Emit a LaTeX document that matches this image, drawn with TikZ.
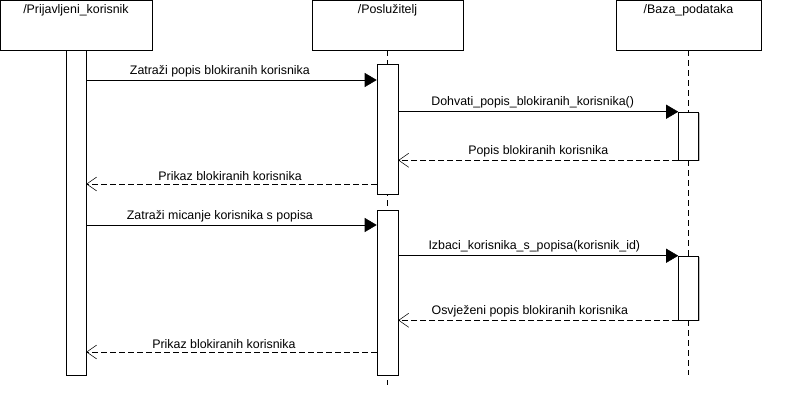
\documentclass[tikz,border=0pt]{standalone}
\usepackage{fontspec}
\setmainfont{Liberation Sans}
\usetikzlibrary{arrows.meta,shadows}

\tikzset{
  shade box/.style={drop shadow={shadow xshift=0.9pt,shadow yshift=-0.9pt,fill=black!25,opacity=1}},
  head/.style={draw,fill=white,shade box,minimum height=37.5pt,inner sep=0pt},
  title/.style={anchor=north,inner sep=0pt,font=\fontsize{9.3}{10}\selectfont},
  act/.style={draw,fill=white,shade box,minimum width=15pt,inner sep=0pt},
  life/.style={dash pattern=on 4.5pt off 3pt},
  call/.style={-{Triangle[length=9pt,width=10.5pt]}},
  reply/.style={dash pattern=on 4.5pt off 2.25pt,-{Straight Barb[length=7.5pt,width=10.5pt]}},
  msg/.style={above,inner sep=2.2pt,font=\fontsize{9.3}{10}\selectfont}
}

\begin{document}
\begin{tikzpicture}[x=0.75pt,y=-0.75pt]
  \useasboundingbox (0,0) rectangle (798,414);
  % lifeline heads
  \node[head,minimum width=114pt] (user) at (76,25) {};
  \node[title] at (76,4) {/Prijavljeni\_korisnik};
  \node[head,minimum width=113.25pt] (server) at (387.5,25) {};
  \node[title] at (387.5,4) {/Poslužitelj};
  \node[head,minimum width=108.75pt] (db) at (688.5,25) {};
  \node[title] at (688.5,4) {/Baza\_podataka};
  % lifelines
  \draw[life] (server.south) -- (387.5,385);
  \draw[life] (db.south) -- (688.5,375);
  % activations
  \node[act,minimum height=243.75pt] (ua) at (76,212.5) {};
  \node[act,minimum width=15.75pt,minimum height=97.5pt] (sa1) at (387.5,129) {};
  \node[act,minimum width=15.75pt,minimum height=123.75pt] (sa2) at (387.5,292.5) {};
  \node[act,minimum height=36pt] (da1) at (688.5,136) {};
  \node[act,minimum height=48pt] (da2) at (688.5,288) {};
  % messages
  \draw[call] (ua.east |- 0,80) -- node[msg,pos=0.46] {Zatraži popis blokiranih korisnika} (sa1.west |- 0,80);
  \draw[call] (sa1.east |- da1.north) -- node[msg,pos=0.48] {Dohvati\_popis\_blokiranih\_korisnika()} (da1.north west);
  \draw[reply] (da1.south west) -- node[msg,pos=0.5] {Popis blokiranih korisnika} (sa1.east |- da1.south);
  \draw[reply] (sa1.west |- 0,184) -- node[msg,pos=0.505] {Prikaz blokiranih korisnika} (ua.east |- 0,184);
  \draw[call] (ua.east |- 0,225) -- node[msg,pos=0.46] {Zatraži micanje korisnika s popisa} (sa2.west |- 0,225);
  \draw[call] (sa2.east |- da2.north) -- node[msg,pos=0.486] {Izbaci\_korisnika\_s\_popisa(korisnik\_id)} (da2.north west);
  \draw[reply] (da2.south west) -- node[msg,pos=0.53] {Osvježeni popis blokiranih korisnika} (sa2.east |- da2.south);
  \draw[reply] (sa2.west |- 0,352) -- node[msg,pos=0.526] {Prikaz blokiranih korisnika} (ua.east |- 0,352);
\end{tikzpicture}
\end{document}
